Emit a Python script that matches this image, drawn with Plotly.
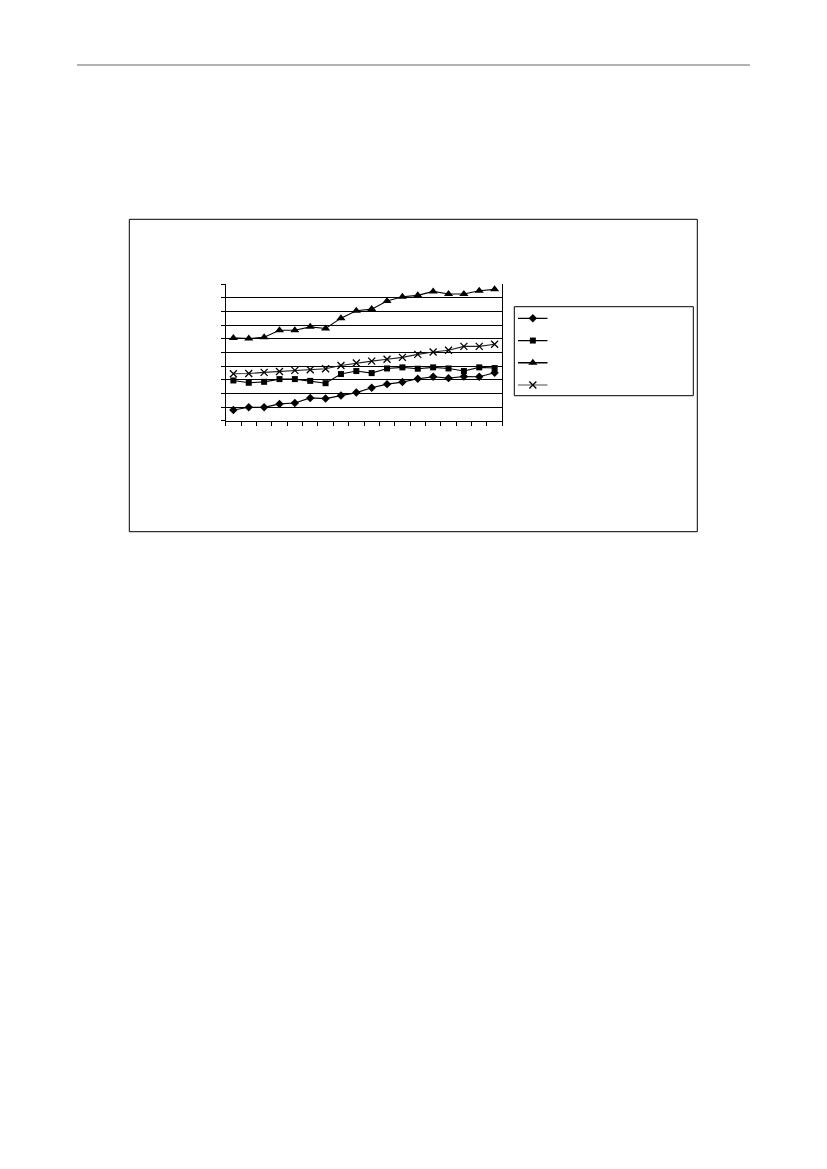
import plotly.graph_objects as go

# --- data (y in grid units, 0..10) ---
categories = list(range(1, 19))
series_diamond = [0.79, 0.98, 0.98, 1.23, 1.30, 1.67, 1.62, 1.84, 2.06, 2.41, 2.68, 2.83, 3.07, 3.22, 3.12, 3.24, 3.22, 3.51]
series_square = [2.95, 2.78, 2.85, 3.05, 3.05, 2.92, 2.75, 3.42, 3.64, 3.49, 3.83, 3.91, 3.81, 3.91, 3.83, 3.64, 3.91, 3.86]
series_triangle = [6.07, 6.02, 6.12, 6.63, 6.63, 6.88, 6.76, 7.52, 8.06, 8.18, 8.77, 9.09, 9.19, 9.48, 9.29, 9.29, 9.53, 9.63]
series_cross = [3.44, 3.46, 3.54, 3.61, 3.69, 3.73, 3.81, 4.05, 4.23, 4.37, 4.50, 4.64, 4.86, 5.04, 5.16, 5.45, 5.45, 5.60]

# page body has an 8px margin, so the figure is drawn 8px in from the window edge
OFF = 8
W, H = 827 - 2 * OFF, 1169 - 2 * OFF


def px(x):
    return (x - OFF) / W


def py(y):
    return 1 - (y - OFF) / H


styles = [
    (series_diamond, "diamond", 6.5, "black"),
    (series_square, "square", 6, "black"),
    (series_triangle, "triangle-up", 8, "black"),
    (series_cross, "x-thin", 7, "#222222"),
]

fig = go.Figure()
for vals, sym, size, col in styles:
    fig.add_trace(go.Scatter(
        x=categories, y=vals, mode="lines+markers",
        line=dict(color=col, width=1.1),
        marker=dict(symbol=sym, size=size, color="black",
                    line=dict(color="black", width=1.3 if sym == "x-thin" else 0)),
        showlegend=False, xaxis="x", yaxis="y", cliponaxis=False,
    ))

# hand-made legend in its own small axes: line sample, then marker on top
leg_rows = [4, 3, 2, 1]
for (vals, sym, size, col), row in zip(styles, leg_rows):
    fig.add_trace(go.Scatter(
        x=[0, 2], y=[row, row], mode="lines",
        line=dict(color="#888888" if sym == "x-thin" else "black", width=1.3),
        showlegend=False, xaxis="x2", yaxis="y2", hoverinfo="skip",
    ))
    fig.add_trace(go.Scatter(
        x=[1], y=[row], mode="markers",
        marker=dict(symbol=sym, size=size, color="black",
                    line=dict(color="black", width=1.3 if sym == "x-thin" else 0)),
        showlegend=False, xaxis="x2", yaxis="y2", hoverinfo="skip",
        cliponaxis=False,
    ))

fig.update_layout(
    width=W, height=H,
    margin=dict(l=0, r=0, t=0, b=0),
    paper_bgcolor="white", plot_bgcolor="white",
    xaxis=dict(
        domain=[px(225.7), px(502.3)], range=[0.5, 18.5],
        tickmode="array", tickvals=[i + 0.5 for i in range(0, 19)],
        ticks="outside", ticklen=4, tickcolor="black", showticklabels=False,
        showgrid=False, zeroline=False, showline=True, linecolor="black", linewidth=1,
    ),
    yaxis=dict(
        domain=[py(420.7), py(284.3)], range=[0, 10], dtick=1,
        ticks="outside", ticklen=4, tickcolor="black", showticklabels=False,
        showgrid=True, gridcolor="black", gridwidth=1, zeroline=False,
        showline=True, linecolor="black", linewidth=1, mirror=True,
    ),
    xaxis2=dict(
        domain=[px(518), px(547.7)], range=[0, 2], anchor="y2",
        visible=False,
    ),
    yaxis2=dict(
        domain=[py(396.1), py(307.2)], range=[0.5, 4.5], anchor="x2",
        visible=False,
    ),
    shapes=[
        # header rule
        dict(type="line", xref="paper", yref="paper",
             x0=px(77), x1=px(750), y0=py(65), y1=py(65),
             line=dict(color="#666666", width=1)),
        # chart frame
        dict(type="rect", xref="paper", yref="paper",
             x0=px(129.3), x1=px(697.3), y0=py(531.7), y1=py(219.3),
             line=dict(color="black", width=1)),
        # legend frame
        dict(type="rect", xref="paper", yref="paper",
             x0=px(514.3), x1=px(693.3), y0=py(395.7), y1=py(306.7),
             line=dict(color="black", width=1)),
    ],
)

fig.write_html("out.html")
